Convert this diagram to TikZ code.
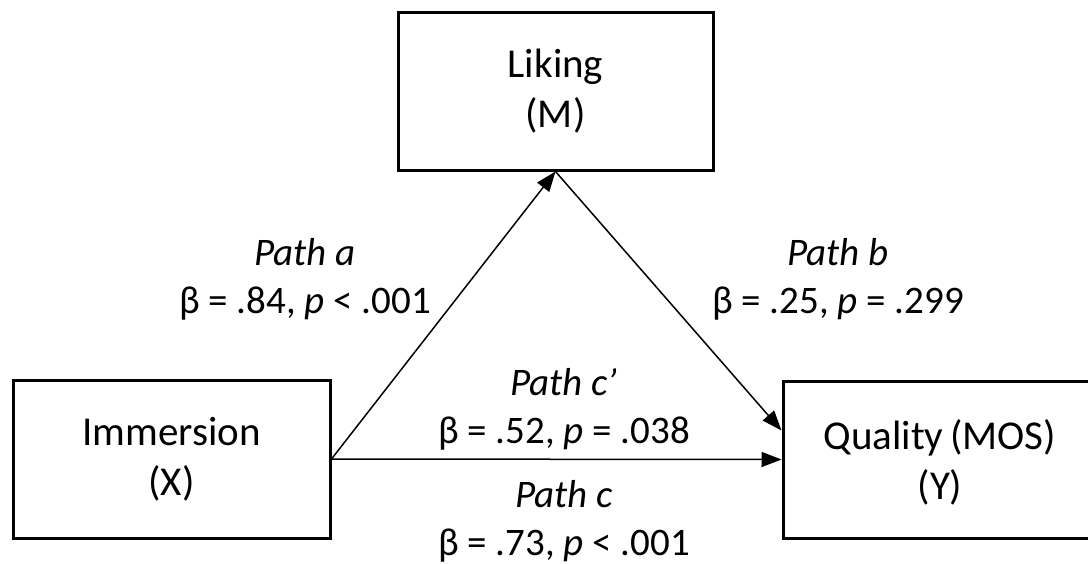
\documentclass[tikz,border=0pt]{standalone}
\usepackage{fontspec}
\setmainfont{Carlito}
\usetikzlibrary{arrows.meta}
\begin{document}
\begin{tikzpicture}[x=1pt,y=-1pt,
  txt/.style={font=\fontsize{39}{48}\selectfont, align=center},
  btxt/.style={font=\fontsize{41}{50}\selectfont, align=center},
  box/.style={btxt, draw, line width=3pt, inner sep=0pt,
              minimum width=315pt, minimum height=158pt},
  lbl/.style={txt, inner sep=0pt},
  conn/.style={line width=1.5pt, -{Triangle[length=20pt,width=15pt]}}]
\useasboundingbox (0,0) rectangle (1088,563);
\clip (0,0) rectangle (1088,563);

% variables of the mediation model
\node[box] (m) at (555.5,91)  {Liking\\(M)};
\node[box, minimum width=317pt] (x) at (171.5,459) {Immersion\\(X)};
% the outcome box runs past the right edge of the page
\node[box, minimum width=360pt, minimum height=157pt] (y) at (963,459.5) {};
\node[btxt, inner sep=0pt] (yt) at (940,462) {Quality\,(MOS)\\(Y)};

% paths
\draw[conn] (x.east) -- (m.south);
\draw[conn] (m.south) -- ([yshift=29pt]y.west);
\draw[conn] (x.east) -- (y.west);

% path coefficients
\node[lbl] (la) at (305,279) {\textit{Path a}\\β = .84, \textit{p} < .001};
\node[lbl] (lb) at (838,279) {\textit{Path b}\\β = .25, \textit{p} = .299};
\node[lbl] (lcp) at (564,409) {\textit{Path c’}\\β = .52, \textit{p} = .038};
\node[lbl] (lc) at (564,521) {\textit{Path c}\\β = .73, \textit{p} < .001};
\end{tikzpicture}
\end{document}
